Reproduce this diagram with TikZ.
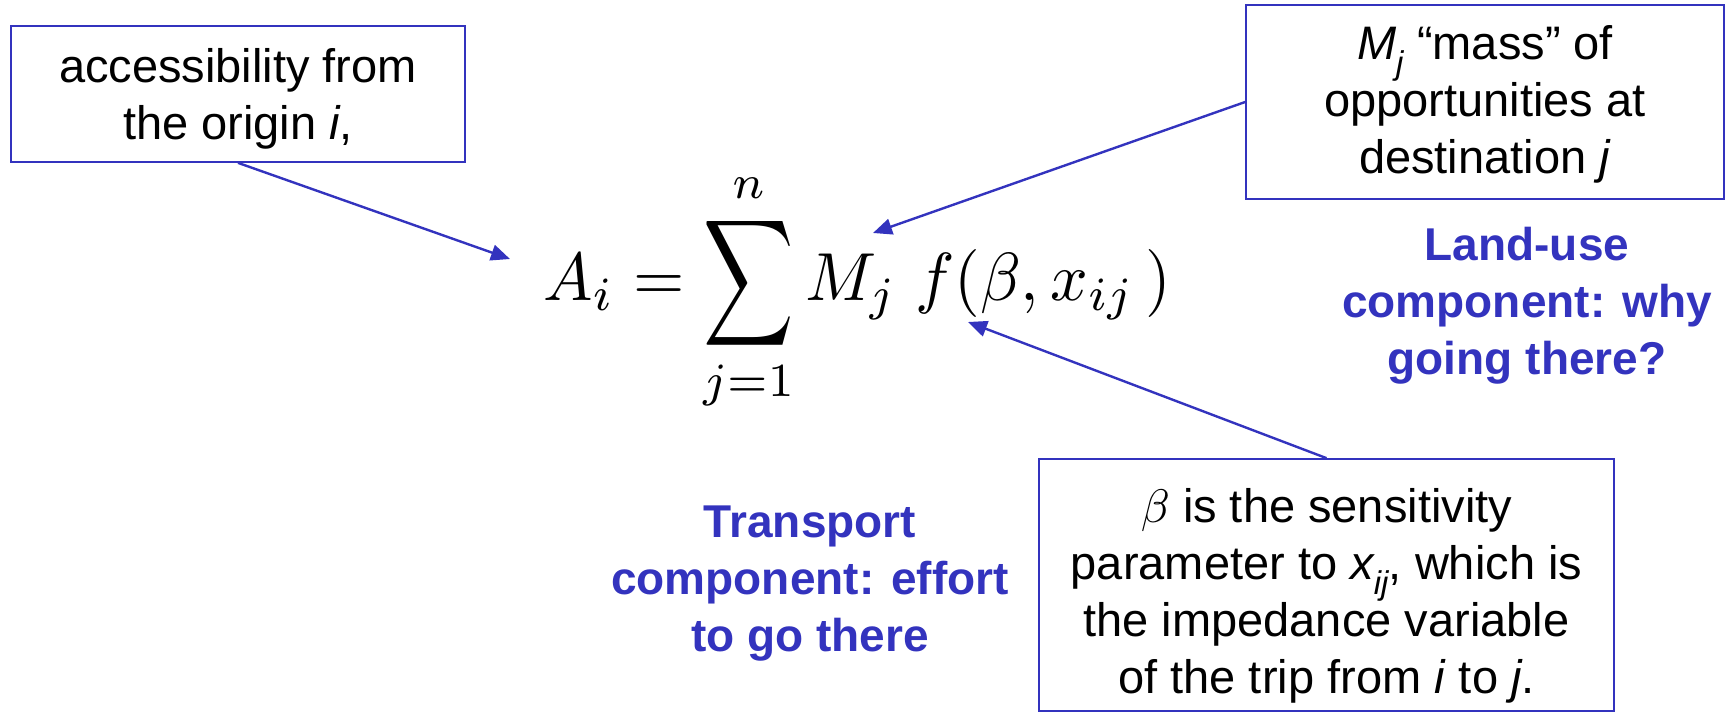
\documentclass[tikz,border=0pt]{standalone}
\usepackage{graphicx}
\usepackage{fontspec}
\setmainfont{Liberation Sans}
\usetikzlibrary{arrows.meta}
\definecolor{pblue}{RGB}{51,51,190}
\newcommand{\mybeta}{\scalebox{4.7}{\fontsize{10}{12}\selectfont$\beta$}}
\newcommand{\bigsum}{\mathop{\vcenter{\hbox{\scalebox{0.95}[1.3]{$\displaystyle\sum$}}}}\limits}
\tikzset{
  infobox/.style={draw=pblue, line width=1.7pt, align=center, inner sep=0pt,
    font=\fontsize{47}{57}\selectfont},
  bluetext/.style={text=pblue, align=center, font=\fontsize{46}{57}\selectfont\bfseries},
  pointer/.style={draw=pblue, line width=2.4pt, -{Triangle[length=19pt,width=16pt]}}
}
\begin{document}
\begin{tikzpicture}[x=1pt,y=-1pt]
\useasboundingbox (0,0) rectangle (1729,712);
\node[infobox, minimum width=454pt, minimum height=136pt] (b1) at (238,94)
  {\rule{0pt}{44pt}accessibility from\\the origin \textit{i},};
\node[infobox, minimum width=478pt, minimum height=194pt] (b2) at (1485,102)
  {\rule{0pt}{38pt}\textit{M\textsubscript{j}} “mass” of\\opportunities at\\destination \textit{j}};
\node[infobox, minimum width=575pt, minimum height=252pt] (b3) at (1326.5,585)
  {\rule{0pt}{56pt}\mybeta{} is the sensitivity\\parameter to \textit{x\textsubscript{ij}}, which is\\the impedance variable\\of the trip from \textit{i} to \textit{j}.};
\node[anchor=base west, inner sep=0pt] (eq) at (543,300)
  {\scalebox{6.6}[6.8]{$A_i = \bigsum_{j=1}^{n} M_j\; f(\beta, x_{ij}\,)$}};
\node[bluetext] (land) at (1527,306) {Land-use\\component: why\\going there?};
\node[bluetext] (trans) at (810,584) {Transport\\component: effort\\to go there};
\coordinate (t1) at (510,259);
\coordinate (t2) at (873,233);
\coordinate (t3) at (968,322);
\draw[pointer] (b1.south) -- (t1);
\draw[pointer] (b2.west) -- (t2);
\draw[pointer] (b3.north) -- (t3);
\end{tikzpicture}
\end{document}
